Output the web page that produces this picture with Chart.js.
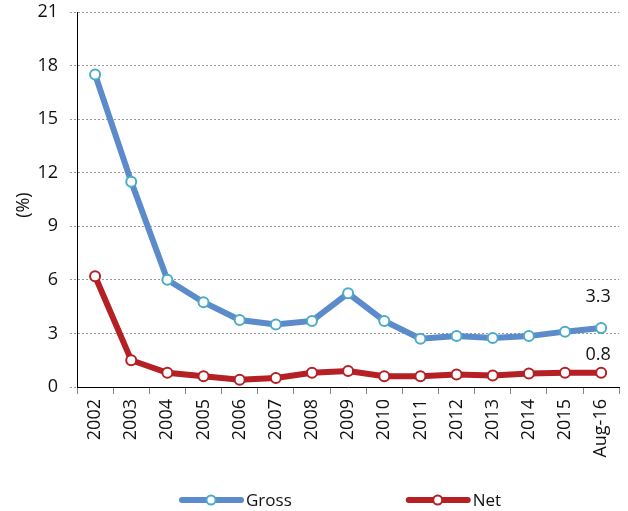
<!DOCTYPE html>
<html>
<head>
<meta charset="utf-8">
<script src="https://cdn.jsdelivr.net/npm/chart.js@4"></script>
<style>
  html, body { margin: 0; padding: 0; background: #fff; }
  #wrap { width: 628px; height: 511px; position: relative; }
</style>
</head>
<body>
<div id="wrap"><canvas id="chart"></canvas></div>
<script>
const categories = ["2002", "2003", "2004", "2005", "2006", "2007", "2008", "2009", "2010", "2011", "2012", "2013", "2014", "2015", "Aug-16"];
const grossValues = [17.5, 11.5, 6.0, 4.75, 3.75, 3.5, 3.7, 5.25, 3.7, 2.7, 2.85, 2.75, 2.85, 3.1, 3.3];
const netValues = [6.2, 1.5, 0.8, 0.6, 0.4, 0.5, 0.8, 0.9, 0.6, 0.6, 0.7, 0.65, 0.75, 0.8, 0.8];
const yTicks = [0, 3, 6, 9, 12, 15, 18, 21];

const FONT = "'Open Sans', 'DejaVu Sans', sans-serif";
const blue = "#5b8bcb";
const teal = "#4bacc6";
const red = "#b52025";

// end-of-series labels, the legend and the "(%)" title, drawn by hand
const extras = {
  id: "extras",
  afterDatasetsDraw(chart) {
    const ctx = chart.ctx;
    const lift = [26, 13]; // Excel put the two labels at different heights
    ctx.save();
    ctx.font = "18px " + FONT;
    ctx.fillStyle = "#111";
    ctx.textAlign = "center";
    ctx.textBaseline = "alphabetic";
    chart.data.datasets.forEach((ds, i) => {
      const meta = chart.getDatasetMeta(i);
      const last = meta.data[meta.data.length - 1];
      const v = ds.data[ds.data.length - 1];
      ctx.fillText(v.toFixed(1), last.x - 3, last.y - lift[i]);
    });
    ctx.restore();
  },
  afterDraw(chart) {
    const ctx = chart.ctx;
    const area = chart.chartArea;
    ctx.save();

    // y title
    ctx.font = "18px " + FONT;
    ctx.fillStyle = "#111";
    ctx.textAlign = "center";
    ctx.textBaseline = "middle";
    ctx.translate(24, area.top + (area.bottom - area.top) * 0.515);
    ctx.rotate(-Math.PI / 2);
    ctx.fillText("(%)", 0, 0);
    ctx.setTransform(1, 0, 0, 1, 0, 0);

    // legend
    let x = 180;
    const y = 500;
    ctx.font = "17px " + FONT;
    ctx.textAlign = "left";
    chart.data.datasets.forEach(ds => {
      ctx.strokeStyle = ds.borderColor;
      ctx.lineWidth = 6;
      ctx.lineCap = "round";
      ctx.beginPath(); ctx.moveTo(x + 2, y); ctx.lineTo(x + 61, y); ctx.stroke();
      ctx.fillStyle = "#fff";
      ctx.strokeStyle = ds.pointBorderColor;
      ctx.lineWidth = 2;
      ctx.beginPath(); ctx.arc(x + 31, y, 4.5, 0, Math.PI * 2); ctx.fill(); ctx.stroke();
      ctx.fillStyle = "#111";
      ctx.fillText(ds.label, x + 66, y + 1);
      x += 66 + ctx.measureText(ds.label).width + 115;
    });
    ctx.restore();
  }
};

new Chart(document.getElementById("chart"), {
  type: "line",
  data: {
    labels: categories,
    datasets: [
      {
        label: "Gross",
        data: grossValues,
        borderColor: blue,
        borderWidth: 6,
        pointBackgroundColor: "#fff",
        pointBorderColor: teal,
        pointBorderWidth: 2,
        pointRadius: 5,
        tension: 0
      },
      {
        label: "Net",
        data: netValues,
        borderColor: red,
        borderWidth: 6,
        pointBackgroundColor: "#fff",
        pointBorderColor: red,
        pointBorderWidth: 2,
        pointRadius: 5,
        tension: 0
      }
    ]
  },
  options: {
    responsive: true,
    maintainAspectRatio: false,
    animation: false,
    layout: { padding: { top: 12, right: 5, left: 0, bottom: 44 } },
    plugins: {
      tooltip: { enabled: false },
      legend: { display: false }
    },
    scales: {
      x: {
        offset: true,
        afterFit(axis) { axis.height = 80; },
        grid: {
          offset: true,
          drawOnChartArea: false,
          tickLength: 7,
          color: "#888"
        },
        border: { color: "#000", width: 1 },
        ticks: {
          color: "#111",
          font: { family: FONT, size: 18 },
          minRotation: 90,
          maxRotation: 90,
          autoSkip: false,
          padding: 5
        }
      },
      y: {
        min: 0,
        max: 21,
        afterBuildTicks(axis) { axis.ticks = yTicks.map(v => ({ value: v })); },
        afterFit(axis) {
          axis.width = 77;
          axis.paddingTop = 0;
        },
        grid: {
          color: "#999",
          tickColor: "#999",
          tickLength: 7,
          tickBorderDash: [2, 2]
        },
        border: { color: "#000", width: 1, dash: [2, 2] },
        ticks: {
          color: "#111",
          font: { family: FONT, size: 18 },
          padding: 12
        }
      }
    }
  },
  plugins: [extras]
});
</script>
</body>
</html>
